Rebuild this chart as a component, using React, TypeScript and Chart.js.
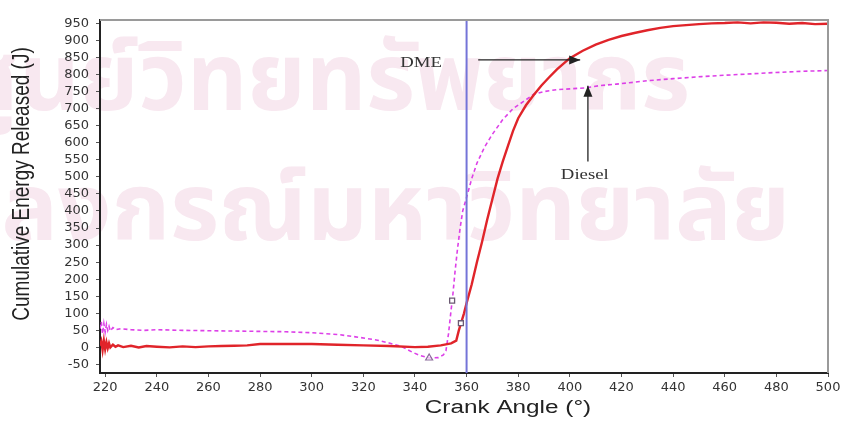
import { useEffect, useRef } from "react";
import { Chart, registerables } from "chart.js";

Chart.register(...registerables);

// ---- axes ----
const X_MIN = 218;
const X_MAX = 500;
const Y_MIN = -75;
const Y_MAX = 960;
const xTickValues = [220, 240, 260, 280, 300, 320, 340, 360, 380, 400, 420, 440, 460, 480, 500];
const yTickValues = [-50, 0, 50, 100, 150, 200, 250, 300, 350, 400, 450, 500, 550, 600, 650, 700, 750, 800, 850, 900, 950];
const xTitle = "Crank Angle (°)";
const yTitle = "Cumulative Energy Released (J)";

// ---- DME (red) ----
const dmeAngle = [
  218, 218.5, 219, 219.5, 220, 220.5, 221, 221.5, 222, 223, 224, 225, 227, 230, 233, 236, 240, 245, 250, 255,
  260, 265, 270, 275, 280, 285, 290, 300, 310, 320, 330, 340, 345, 350, 354, 356, 357, 358, 359, 360,
  362, 364, 366, 368, 370, 372, 374, 376, 378, 380, 383, 386, 389, 392, 395, 398, 400, 405, 410, 415,
  420, 425, 430, 435, 440, 445, 450, 455, 460, 465, 470, 475, 480, 485, 490, 495, 500,
];
const dmeEnergy = [
  5, 18, -8, 20, -5, 15, -2, 12, 0, 8, 2, 6, 1, 5, 0, 4, 2, 0, 3, 1,
  3, 4, 5, 6, 10, 10, 10, 10, 8, 6, 4, 1, 2, 6, 12, 20, 50, 75, 100, 130,
  185, 250, 310, 375, 435, 495, 545, 590, 635, 672, 710, 740, 768, 792, 815, 835, 848, 870, 888, 902,
  913, 922, 930, 937, 942, 945, 948, 950, 951, 953, 950, 953, 952, 949, 951, 948, 949,
];

// ---- Diesel (magenta) ----
const dieselAngle = [
  218, 218.5, 219, 219.5, 220, 220.5, 221, 221.5, 222, 223, 224, 226, 230, 235, 240, 250, 260, 270, 280, 290,
  300, 310, 317, 325, 330, 335, 339, 342, 345.5, 349, 351, 352, 353, 354, 354.5, 355.5, 356.5, 357.5, 358.5, 360,
  362, 364, 367, 370, 374, 378, 383, 386, 390, 395, 400, 406, 412, 418, 423, 430, 440, 451, 460, 470,
  477, 485, 492, 500,
];
const dieselEnergy = [
  55, 75, 40, 70, 45, 68, 50, 62, 48, 58, 52, 55, 52, 50, 52, 50, 49, 48, 47, 46,
  43, 38, 31, 22, 13, 2, -14, -24, -31, -30, -22, -10, 40, 110, 140, 220, 290, 350, 400, 440,
  495, 540, 588, 625, 668, 700, 726, 742, 750, 756, 758, 761, 768, 772, 776, 782, 788, 794, 798, 802,
  805, 808, 810, 812,
];

// ---- TDC line and markers ----
const tdcAngle = [360, 360];
const tdcEnergy = [Y_MIN, Y_MAX];
const squareAngle = [354.4, 357.8];
const squareEnergy = [137, 71];
const triangleAngle = [345.5];
const triangleEnergy = [-31];

// ---- annotations ----
const dmeLabel = { text: "DME", x: 342.4, y: 833 };
const dmeArrowFrom = [364.5, 843];
const dmeArrowTo = [404, 843];
const dieselLabel = { text: "Diesel", x: 405.8, y: 505 };
const dieselArrowFrom = [407, 545];
const dieselArrowTo = [407, 767];

const watermark1 = "ศูนย์วิทยทรัพยากร";
const watermark2 = "จุฬาลงกรณ์มหาวิทยาลัย";

const toPts = (xs: number[], ys: number[]) => xs.map((x, i) => ({ x, y: ys[i] }));

const decorPlugin = {
  id: "decor",
  beforeDraw(chart: any) {
    const ctx = chart.ctx;
    ctx.save();
    ctx.fillStyle = "#ffffff";
    ctx.fillRect(0, 0, chart.width, chart.height);
    ctx.fillStyle = "#f8e8f0";
    ctx.font = 'bold 94px "Noto Sans Thai", "Loma", "Garuda", "Norasi", sans-serif';
    ctx.textAlign = "right";
    ctx.textBaseline = "alphabetic";
    ctx.fillText(watermark1, 690, 110);
    ctx.fillText(watermark2, 790, 240);
    ctx.restore();
  },
  afterDraw(chart: any) {
    const ctx = chart.ctx;
    const a = chart.chartArea;
    const xs = chart.scales.x;
    const ys = chart.scales.y;
    ctx.save();
    // top / right frame
    ctx.strokeStyle = "#9a9a9a";
    ctx.lineWidth = 2;
    ctx.beginPath();
    ctx.moveTo(a.left, a.top);
    ctx.lineTo(a.right, a.top);
    ctx.lineTo(a.right, a.bottom);
    ctx.stroke();

    // arrows
    const arrow = (from: number[], to: number[]) => {
      const x1 = xs.getPixelForValue(from[0]);
      const y1 = ys.getPixelForValue(from[1]);
      const x2 = xs.getPixelForValue(to[0]);
      const y2 = ys.getPixelForValue(to[1]);
      ctx.strokeStyle = "#222";
      ctx.fillStyle = "#222";
      ctx.lineWidth = 1.3;
      ctx.beginPath();
      ctx.moveTo(x1, y1);
      ctx.lineTo(x2, y2);
      ctx.stroke();
      const ang = Math.atan2(y2 - y1, x2 - x1);
      const L = 11, W = 4.5;
      ctx.beginPath();
      ctx.moveTo(x2, y2);
      ctx.lineTo(x2 - L * Math.cos(ang) + W * Math.sin(ang), y2 - L * Math.sin(ang) - W * Math.cos(ang));
      ctx.lineTo(x2 - L * Math.cos(ang) - W * Math.sin(ang), y2 - L * Math.sin(ang) + W * Math.cos(ang));
      ctx.closePath();
      ctx.fill();
    };
    arrow(dmeArrowFrom, dmeArrowTo);
    arrow(dieselArrowFrom, dieselArrowTo);

    const stretchText = (text: string, x: number, y: number, font: string, sx: number, color: string) => {
      ctx.save();
      ctx.translate(x, y);
      ctx.scale(sx, 1);
      ctx.font = font;
      ctx.fillStyle = color;
      ctx.textAlign = "center";
      ctx.textBaseline = "middle";
      ctx.fillText(text, 0, 0);
      ctx.restore();
    };
    stretchText(dmeLabel.text, xs.getPixelForValue(dmeLabel.x), ys.getPixelForValue(dmeLabel.y), '15px "Liberation Serif", serif', 1.25, "#333");
    stretchText(dieselLabel.text, xs.getPixelForValue(dieselLabel.x), ys.getPixelForValue(dieselLabel.y), '15px "Liberation Serif", serif', 1.25, "#333");

    // axis titles
    stretchText(xTitle, 508, 408, '18px "Liberation Sans", Arial, sans-serif', 1.35, "#222");
    ctx.save();
    ctx.translate(22, 184);
    ctx.rotate(-Math.PI / 2);
    ctx.scale(1, 1.3);
    ctx.font = '19px "Liberation Sans", Arial, sans-serif';
    ctx.fillStyle = "#222";
    ctx.textAlign = "center";
    ctx.textBaseline = "middle";
    ctx.fillText(yTitle, 0, 0);
    ctx.restore();

    ctx.restore();
  },
};

export default function App() {
  const ref = useRef<HTMLCanvasElement | null>(null);
  useEffect(() => {
    if (!ref.current) return;
    const tickFont = { family: '"DejaVu Sans", sans-serif', size: 13 };
    const chart = new Chart(ref.current, {
      type: "line",
      data: {
        datasets: [
          {
            label: "squares",
            data: toPts(squareAngle, squareEnergy),
            showLine: false,
            pointStyle: "rect",
            pointRadius: 3.5,
            pointBorderWidth: 1.3,
            pointBorderColor: "#6b5a72",
            pointBackgroundColor: "#ffffff",
            order: 0,
          },
          {
            label: "triangle",
            data: toPts(triangleAngle, triangleEnergy),
            showLine: false,
            pointStyle: "triangle",
            pointRadius: 4,
            pointBorderWidth: 1.2,
            pointBorderColor: "#8a6a9a",
            pointBackgroundColor: "rgba(255,255,255,0.6)",
            order: 0,
          },
          {
            label: "TDC",
            data: toPts(tdcAngle, tdcEnergy),
            borderColor: "#7474d8",
            borderWidth: 2,
            pointRadius: 0,
            order: 1,
          },
          {
            label: "DME",
            data: toPts(dmeAngle, dmeEnergy),
            borderColor: "#e0242a",
            borderWidth: 2.4,
            pointRadius: 0,
            tension: 0,
            order: 2,
          },
          {
            label: "Diesel",
            data: toPts(dieselAngle, dieselEnergy),
            borderColor: "#dd40e8",
            borderWidth: 1.6,
            borderDash: [4, 3],
            pointRadius: 0,
            tension: 0,
            order: 3,
          },
        ],
      },
      options: {
        animation: false,
        responsive: false,
        parsing: false as any,
        layout: { padding: { left: 0, right: 20, top: 20, bottom: 0 } },
        plugins: { legend: { display: false }, tooltip: { enabled: false }, title: { display: false } },
        scales: {
          x: {
            type: "linear",
            min: X_MIN,
            max: X_MAX,
            afterBuildTicks: (s: any) => {
              s.ticks = xTickValues.map((v) => ({ value: v }));
            },
            afterFit: (s: any) => {
              s.height = 51;
            },
            ticks: { font: tickFont, color: "#333", padding: 3, autoSkip: false, maxRotation: 0, callback: (v: any) => String(v) },
            grid: { drawOnChartArea: false, drawTicks: true, tickLength: 4, color: "#555" },
            border: { display: true, color: "#222", width: 2 },
          },
          y: {
            type: "linear",
            min: Y_MIN,
            max: Y_MAX,
            afterBuildTicks: (s: any) => {
              s.ticks = yTickValues.map((v) => ({ value: v }));
            },
            afterFit: (s: any) => {
              s.width = 100;
            },
            ticks: { font: tickFont, color: "#333", padding: 7, autoSkip: false, callback: (v: any) => String(v) },
            grid: { drawOnChartArea: false, drawTicks: true, tickLength: 4, color: "#555" },
            border: { display: true, color: "#222", width: 2 },
          },
        },
      },
      plugins: [decorPlugin],
    });
    return () => chart.destroy();
  }, []);
  return (
    <div style={{ position: "fixed", left: 0, top: 0, width: 848, height: 424, background: "#fff" }}>
      <canvas ref={ref} width={848} height={424} style={{ width: 848, height: 424, display: "block" }} />
    </div>
  );
}
